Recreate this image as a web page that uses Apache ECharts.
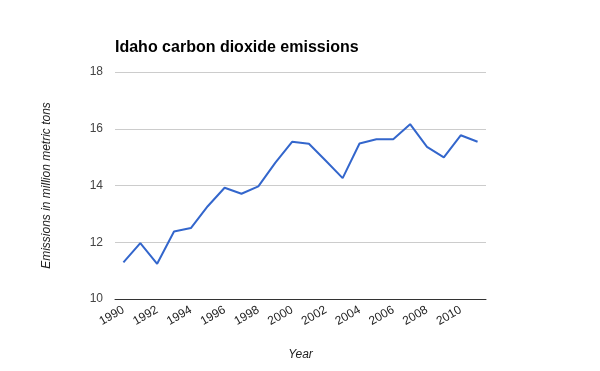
<!DOCTYPE html>
<html><head><meta charset="utf-8">
<script src="https://cdn.jsdelivr.net/npm/echarts@6/dist/echarts.min.js"></script>
<style>html,body{margin:0;padding:0;background:#fff}#c{width:600px;height:371px}</style>
</head><body><div id="c"></div>
<script>
const years = ['1990','1991','1992','1993','1994','1995','1996','1997','1998','1999','2000','2001','2002','2003','2004','2005','2006','2007','2008','2009','2010','2011'];
const emissions = [11.29,11.97,11.24,12.38,12.50,13.27,13.92,13.71,13.97,14.80,15.54,15.47,14.87,14.26,15.48,15.63,15.63,16.16,15.36,14.99,15.77,15.54];
const yTicks = [10,12,14,16,18];
const chart = echarts.init(document.getElementById('c'));
chart.setOption({
  animation:false,
  title:{text:'Idaho carbon dioxide emissions',left:110,top:35,textStyle:{fontFamily:'Liberation Sans',fontSize:16,fontWeight:'bold',color:'#000'}},
  grid:{left:115,right:114,top:72,bottom:72},
  xAxis:{type:'category',data:years,boundaryGap:true,
    name:'Year',nameLocation:'middle',nameGap:50,
    nameTextStyle:{fontFamily:'Liberation Sans',fontSize:12,fontStyle:'italic',color:'#222'},
    axisLine:{lineStyle:{color:'#333',width:1}},axisTick:{show:false},
    axisLabel:{interval:1,rotate:30,margin:10,fontFamily:'Liberation Sans',fontSize:12,color:'#222'}},
  yAxis:{type:'value',min:yTicks[0],max:yTicks[yTicks.length-1],interval:2,
    name:'Emissions in million metric tons',nameLocation:'middle',nameGap:62,
    nameTextStyle:{fontFamily:'Liberation Sans',fontSize:12,fontStyle:'italic',color:'#222'},
    axisLine:{show:false},axisTick:{show:false},
    axisLabel:{margin:12,fontFamily:'Liberation Sans',fontSize:12,color:'#444'},
    splitLine:{lineStyle:{color:'#ccc',width:1}}},
  series:[{type:'line',data:emissions,symbol:'none',lineStyle:{color:'#3366cc',width:2},itemStyle:{color:'#3366cc'}}]
});
</script></body></html>
